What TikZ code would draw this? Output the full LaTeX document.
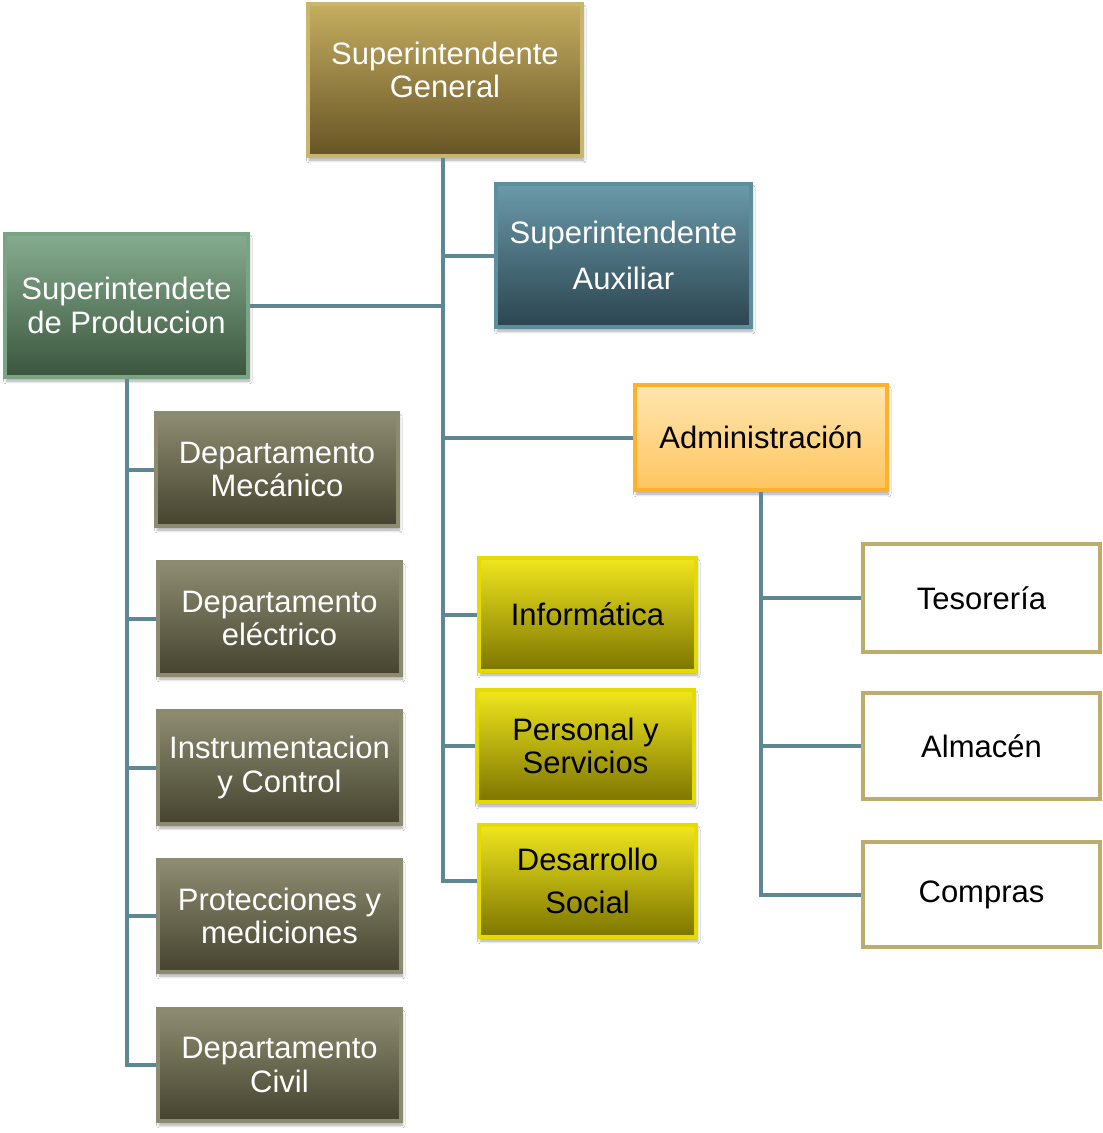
\documentclass[tikz,border=0pt]{standalone}
\usepackage{fontspec}
\setmainfont{Liberation Sans}
\usetikzlibrary{shadows.blur}
\definecolor{goldT}{HTML}{C5AE60}\definecolor{goldB}{HTML}{665425}\definecolor{goldD}{HTML}{C9B66E}
\definecolor{tealT}{HTML}{6B9AAA}\definecolor{tealB}{HTML}{2B4550}\definecolor{tealD}{HTML}{5E8E9E}
\definecolor{grnT}{HTML}{86AD90}\definecolor{grnB}{HTML}{3B553D}\definecolor{grnD}{HTML}{7AA585}
\definecolor{oliT}{HTML}{8E8D72}\definecolor{oliB}{HTML}{45432E}\definecolor{oliD}{HTML}{8C8B70}
\definecolor{yelT}{HTML}{F0E61E}\definecolor{yelB}{HTML}{7C7500}\definecolor{yelD}{HTML}{E5DB00}
\definecolor{orgT}{HTML}{FFE6B0}\definecolor{orgB}{HTML}{FFC55F}\definecolor{orgD}{HTML}{FFB12C}
\definecolor{whtD}{HTML}{BDAD6C}
\definecolor{conn}{HTML}{5D8793}
\tikzset{
  sz/.style 2 args={minimum width=#1*0.75pt, minimum height=#2*0.75pt},
  box/.style={rectangle, line width=3pt, inner sep=0pt, align=center,
    font=\fontsize{23.25}{25}\selectfont,
    blur shadow={shadow blur steps=6, shadow xshift=1pt, shadow yshift=-3pt, shadow opacity=35}},
  gold/.style={box, draw=goldD, top color=goldT, bottom color=goldB, text=white},
  teal/.style={box, draw=tealD, top color=tealT, bottom color=tealB, text=white},
  grn/.style={box, draw=grnD, top color=grnT, bottom color=grnB, text=white},
  oli/.style={box, draw=oliD, top color=oliT, bottom color=oliB, text=white},
  yel/.style={box, draw=yelD, top color=yelT, bottom color=yelB, text=black},
  org/.style={box, draw=orgD, top color=orgT, bottom color=orgB, text=black},
  wht/.style={rectangle, line width=3pt, inner sep=0pt, align=center,
    font=\fontsize{23.25}{25}\selectfont, draw=whtD, fill=white, text=black},
  link/.style={draw=conn, line width=3pt}
}
\begin{document}
\begin{tikzpicture}[x=0.75pt, y=-0.75pt]
\useasboundingbox[fill=white] (0,0) rectangle (1103,1133);
\coordinate (trunk) at (443,157);
\coordinate (ptrunk) at (127,378);
\coordinate (atrunk) at (761,491);
% nodes
\node[gold, sz={274}{152}, text depth=15pt] (G) at (445,80) {Superintendente\\General};
\node[teal, sz={255}{143}] (Aux) at (623.5,255.5) {Superintendente\\[9pt]Auxiliar};
\node[grn, sz={243}{143}] (Prod) at (126.5,305.5) {Superintendete\\de Produccion};
\node[org, sz={252}{105}] (Adm) at (761,437.5) {Administración};
\node[oli, sz={242}{113}] (Mec) at (277,469.5) {Departamento\\Mecánico};
\node[oli, sz={243}{113}] (Ele) at (279.5,618.5) {Departamento\\eléctrico};
\node[oli, sz={243}{113}] (Ins) at (279.5,767.5) {Instrumentacion\\y Control};
\node[oli, sz={243}{112}] (Pro) at (279.5,916) {Protecciones y\\mediciones};
\node[oli, sz={243}{112}] (Civ) at (279.5,1065) {Departamento\\Civil};
\node[yel, sz={217}{113}] (Inf) at (587.5,614.5) {Informática};
\node[yel, sz={217}{112}] (Per) at (585.5,746) {Personal y\\Servicios};
\node[yel, sz={217}{112}] (Des) at (587.5,881) {Desarrollo\\[7pt]Social};
\node[wht, sz={237}{108}] (Tes) at (981.5,598) {Tesorería};
\node[wht, sz={237}{106}] (Alm) at (981.5,746) {Almacén};
\node[wht, sz={237}{105}] (Com) at (981.5,894.5) {Compras};
% trunk from general
\draw[link] (G.south -| trunk) |- (Des.west);
\draw[link] (Aux.west) -- (Aux.west -| trunk);
\draw[link] (Prod.east) -- (Prod.east -| trunk);
\draw[link] (Adm.west) -- (Adm.west -| trunk);
\draw[link] (Inf.west) -- (Inf.west -| trunk);
\draw[link] (Per.west) -- (Per.west -| trunk);
% production branch
\draw[link] (Prod.south -| ptrunk) |- (Civ.west);
\draw[link] (Mec.west) -- (Mec.west -| ptrunk);
\draw[link] (Ele.west) -- (Ele.west -| ptrunk);
\draw[link] (Ins.west) -- (Ins.west -| ptrunk);
\draw[link] (Pro.west) -- (Pro.west -| ptrunk);
% administration branch
\draw[link] (Adm.south -| atrunk) |- (Com.west);
\draw[link] (Tes.west) -- (Tes.west -| atrunk);
\draw[link] (Alm.west) -- (Alm.west -| atrunk);
\end{tikzpicture}
\end{document}
